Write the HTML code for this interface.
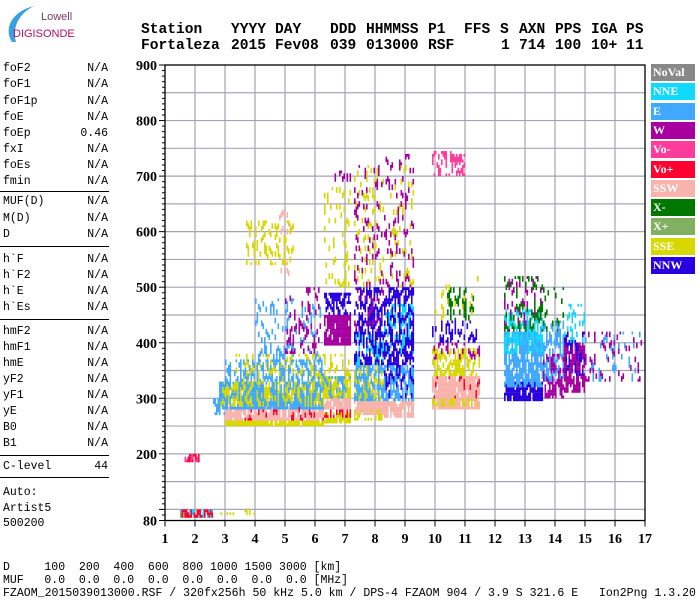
<!DOCTYPE html>
<html><head><meta charset="utf-8">
<style>
body{margin:0;width:700px;height:600px;background:#fff;overflow:hidden;position:relative;font-family:"Liberation Mono",monospace;}
.t{position:absolute;white-space:pre;font-size:11.5px;color:#000;}
.h{position:absolute;white-space:pre;font-size:14.6px;font-weight:bold;color:#000;font-family:"Liberation Mono",monospace;}
.lv{position:absolute;right:592px;text-align:right;white-space:pre;font-size:11.5px;}
.sep{position:absolute;left:0;width:109px;height:1px;background:#000;}
.leg{position:absolute;left:651px;width:44px;height:17px;color:#fff;font:bold 12px "Liberation Serif",serif;line-height:17px;padding-left:2px;box-sizing:border-box;}
</style></head><body>
<div style="position:absolute;left:0;top:0;width:110px;height:45px;">
<svg width="110" height="45"><path d="M12,42 C4,30 10,12 34,6 C18,14 12,28 16,42 Z" fill="#3aa0e0"/></svg>
<div style="position:absolute;left:41px;top:11px;font:11px 'Liberation Sans',sans-serif;color:#7a3a60;">Lowell</div>
<div style="position:absolute;left:13px;top:28px;font:11px 'Liberation Sans',sans-serif;color:#b01060;">DIGISONDE</div>
</div>
<div id="hdr"></div>
<div id="left"></div>
<div id="legend"></div>
<svg id="chart" width="700" height="600" style="position:absolute;left:0;top:0;"></svg>
<div class="t" style="left:3px;top:561px;">D     100  200  400  600  800 1000 1500 3000 [km]</div>
<div class="t" style="left:3px;top:574px;">MUF   0.0  0.0  0.0  0.0  0.0  0.0  0.0  0.0 [MHz]</div>
<div class="t" style="left:3px;top:587px;font-size:11.55px;">FZAOM_2015039013000.RSF / 320fx256h 50 kHz 5.0 km / DPS-4 FZAOM 904 / 3.9 S 321.6 E   Ion2Png 1.3.20</div>
<script>
const xTicks=[1,2,3,4,5,6,7,8,9,10,11,12,13,14,15,16,17];
const yTicks=[80,200,300,400,500,600,700,800,900];
const legendNames=['NoVal','NNE','E','W','Vo-','Vo+','SSW','X-','X+','SSE','NNW'];
const legendColors=['#888888','#10d8ff','#40a8ff','#a800a0','#ff3c9c','#ff0030','#f8b4ac','#007800','#80b060','#d8d800','#2800e0'];
// echo clusters: [fStart, fEnd, hLow, hHigh, mode, density]
const clusters=[
[1.5,2.6,83,98,'Vo+',0.6],[1.5,2.6,83,98,'NNE',0.2],[1.5,1.8,83,95,'X+',0.3],[2.6,4.0,92,102,'SSE',0.15],
[1.65,2.15,184,200,'Vo+',0.45],[1.65,2.15,184,200,'Vo-',0.15],
[2.6,3.0,270,300,'E',0.4],
[3.0,6.3,248,262,'SSE',0.75],[3.0,6.3,262,285,'SSW',0.6],[3.0,6.3,262,285,'Vo+',0.1],
[2.8,6.3,280,330,'E',0.65],[2.8,6.3,285,330,'SSE',0.25],[3.0,6.3,330,370,'E',0.35],[3.3,6.3,330,380,'SSE',0.12],
[4.0,6.2,370,480,'E',0.12],[5.0,6.2,380,500,'W',0.15],[3.7,5.3,540,620,'SSE',0.18],[4.8,5.3,520,650,'SSW',0.1],
[6.3,7.2,255,275,'SSE',0.6],[6.3,7.2,265,280,'Vo+',0.35],[6.3,7.2,280,300,'SSW',0.6],[6.3,7.2,300,340,'SSE',0.6],
[6.3,7.2,300,340,'E',0.3],[6.3,7.2,340,380,'SSE',0.2],[6.3,7.2,395,450,'W',0.65],[6.3,7.2,450,470,'NNW',0.3],
[6.3,7.2,470,490,'NNW',0.6],[6.3,7.2,500,680,'SSE',0.1],[6.6,7.2,690,710,'W',0.3],
[7.3,8.3,270,295,'SSW',0.65],[7.3,8.3,260,280,'SSE',0.3],[7.3,8.3,295,360,'E',0.55],[7.3,8.3,295,360,'SSE',0.2],
[7.3,8.3,360,420,'NNE',0.35],[7.3,8.3,360,500,'NNW',0.4],[7.3,8.3,420,500,'W',0.1],[7.3,8.3,500,720,'SSE',0.12],[7.3,8.3,500,720,'W',0.1],
[8.3,9.3,265,295,'SSW',0.6],[8.3,9.3,295,360,'E',0.5],[8.3,9.3,300,360,'NNW',0.2],[8.3,9.3,360,500,'NNW',0.45],
[8.3,9.3,380,470,'NNE',0.2],[8.3,9.3,500,740,'W',0.12],[8.5,9.3,500,720,'SSE',0.08],
[9.9,11.5,280,340,'SSW',0.7],[9.9,11.5,285,300,'SSE',0.3],[9.9,11.5,300,340,'Vo+',0.05],[9.9,11.5,340,390,'SSE',0.45],
[9.9,11.5,370,400,'W',0.2],[9.9,11.5,400,440,'NNW',0.2],[10.4,11.3,440,500,'X-',0.25],[10.0,11.5,440,520,'SSE',0.06],
[9.9,11.0,700,745,'Vo-',0.25],[10.5,11,725,740,'Vo-',0.5],
[12.3,13.6,295,330,'NNW',0.6],[12.3,13.6,320,420,'E',0.55],[12.3,13.6,380,460,'NNE',0.4],[12.3,13.6,420,520,'X-',0.2],[12.3,13.6,420,520,'W',0.1],
[13.6,14.3,300,380,'W',0.5],[13.6,14.3,330,440,'E',0.35],[13.6,14.3,420,500,'X-',0.15],
[14.3,15.0,310,400,'W',0.55],[14.3,15.0,340,420,'NNW',0.2],[14.3,15.0,400,470,'NNE',0.15],
[15.0,16.9,330,420,'W',0.1],[15.0,16.9,330,420,'E',0.08]
];
const leftRows=[['foF2','N/A',68],['foF1','N/A',84],['foF1p','N/A',101],['foE','N/A',117],['foEp','0.46',133],['fxI','N/A',149],['foEs','N/A',165],['fmin','N/A',181],
['MUF(D)','N/A',201],['M(D)','N/A',218],['D','N/A',234],['h`F','N/A',259],['h`F2','N/A',275],['h`E','N/A',291],['h`Es','N/A',307],
['hmF2','N/A',331],['hmF1','N/A',347],['hmE','N/A',363],['yF2','N/A',379],['yF1','N/A',395],['yE','N/A',411],['B0','N/A',427],['B1','N/A',443],['C-level','44',466],
['Auto:','',492],['Artist5','',508],['500200','',523]];
const sepYs=[191,246,319,455,477];

const NS='http://www.w3.org/2000/svg';
const X0=165,PX=30,Y0=65,PY=0.5555;
function xs(f){return X0+(f-1)*PX;}
function ys(h){return Y0+(900-h)*PY;}
const svg=document.getElementById('chart');
function mk(tag,attrs,parent){const e=document.createElementNS(NS,tag);for(const k in attrs)e.setAttribute(k,attrs[k]);(parent||svg).appendChild(e);return e;}

const grid=mk('g',{});


for(let f=2;f<=16;f++)mk('line',{x1:xs(f),x2:xs(f),y1:Y0,y2:ys(80),stroke:'#a4a4b4','stroke-width':1.2},grid);
for(let h=100;h<=850;h+=50)mk('line',{x1:X0,x2:xs(17),y1:ys(h),y2:ys(h),stroke:'#a4a4b4','stroke-width':1.2},grid);

const pal={};legendNames.forEach((n,i)=>pal[n]=legendColors[i]);
const echoes=mk('g',{});


function hash(a,b,c){let v=(a*73856093)^(b*19349663)^(c*83492791);v=(v^(v>>>13))*1274126177;v=v^(v>>>16);return ((v>>>0)%10000)/10000;}
const cells={};
clusters.forEach((c,ci)=>{
  const i0=Math.round((c[0]-1)/0.05),i1=Math.round((c[1]-1)/0.05);
  const j0=Math.round(c[2]/5),j1=Math.round(c[3]/5);
  const d=Math.min(0.92,c[5]*1.35);
  for(let i=i0;i<i1;i++)for(let j=j0;j<j1;j++){
    if(hash(i,Math.floor((j+(i%2))/2),ci+1)<d)cells[i+','+j]=c[4];
  }
});
for(const k in cells){
  const [i,j]=k.split(',').map(Number);
  const f=1+i*0.05,h=j*5;
  mk('rect',{x:xs(f).toFixed(1),y:(ys(h)-2.8).toFixed(1),width:1.6,height:2.9,fill:pal[cells[k]]},echoes);
}

const ax=mk('g',{});


mk('rect',{x:X0,y:Y0,width:xs(17)-X0,height:ys(80)-Y0,fill:'none',stroke:'#000','stroke-width':1.3},ax);
for(let h=90;h<=900;h+=10){const maj=h%100===0;mk('line',{x1:X0-(maj?6:3),x2:X0,y1:ys(h),y2:ys(h),stroke:'#000'},ax);}
mk('line',{x1:X0-6,x2:X0,y1:ys(80),y2:ys(80),stroke:'#000'},ax);
yTicks.forEach(h=>{const t=mk('text',{x:157,y:ys(h)+5,'text-anchor':'end','font-family':'Liberation Serif,serif','font-weight':'bold','font-size':14},ax);t.textContent=h;});
xTicks.forEach(f=>{mk('line',{x1:xs(f),x2:xs(f),y1:ys(80),y2:ys(80)+6,stroke:'#000'},ax);
 const t=mk('text',{x:xs(f),y:543,'text-anchor':'middle','font-family':'Liberation Serif,serif','font-weight':'bold','font-size':14},ax);t.textContent=f;});

const hdr=document.getElementById('hdr');
[['Station',141,22],['YYYY',231,22],['DAY',275,22],['DDD',330,22],['HHMMSS',366,22],['P1',428,22],['FFS',464,22],['S',500,22],['AXN',519,22],['PPS',555,22],['IGA',591,22],['PS',626,22],
 ['Fortaleza',141,38],['2015',231,38],['Fev08',275,38],['039',330,38],['013000',366,38],['RSF',428,38],['1',501,38],['714',519,38],['100',555,38],['10+',591,38],['11',626,38]].forEach(w=>{
 const d=document.createElement('div');d.className='h';d.style.left=w[1]+'px';d.style.top=w[2]+'px';d.textContent=w[0];
 
 
 hdr.appendChild(d);});

const left=document.getElementById('left');
leftRows.forEach(r=>{
 const a=document.createElement('div');a.className='t';a.style.left='3px';a.style.top=(r[2]-6)+'px';a.textContent=r[0];
 
 
 left.appendChild(a);
 if(r[1]){const b=document.createElement('div');b.className='lv';b.style.top=(r[2]-6)+'px';b.textContent=r[1];
 
 
 left.appendChild(b);}
});
sepYs.forEach(y=>{const s=document.createElement('div');s.className='sep';s.style.top=y+'px';
 
 
 left.appendChild(s);});

const lg=document.getElementById('legend');
legendNames.forEach((n,i)=>{const d=document.createElement('div');d.className='leg';d.style.top=(64+i*19.3)+'px';d.style.background=legendColors[i];d.textContent=n;
 
 
 lg.appendChild(d);});
</script>
</body></html>
